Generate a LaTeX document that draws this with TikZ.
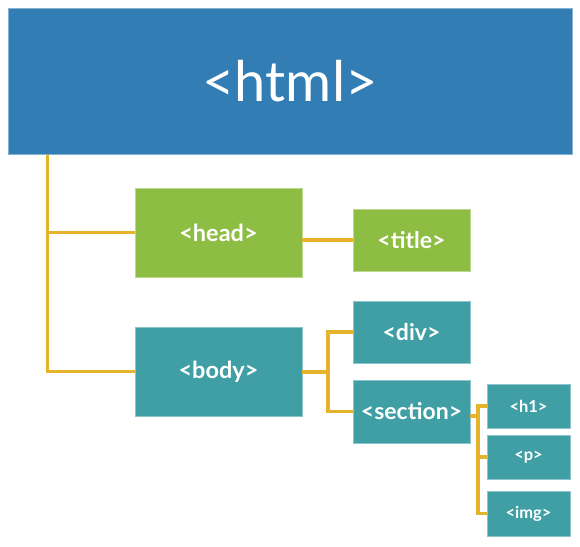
\documentclass[tikz,border=0pt]{standalone}
\usepackage{fontspec}
\setmainfont{Lato}
\definecolor{htmlblue}{HTML}{337DB5}
\definecolor{headgreen}{HTML}{8DBE43}
\definecolor{bodyteal}{HTML}{3F9FA5}
\definecolor{linegold}{HTML}{E6B32C}
\begin{document}
\begin{tikzpicture}[x=1pt,y=-1pt,
  box/.style={rectangle, inner sep=0pt, text=white, line width=0.6pt},
  bluebox/.style={box, fill=htmlblue, draw=htmlblue!60!white},
  greenbox/.style={box, fill=headgreen, draw=headgreen!60!white},
  tealbox/.style={box, fill=bodyteal, draw=bodyteal!60!white},
  big/.style={font=\bfseries\fontsize{23.5}{27}\selectfont},
  mid/.style={font=\bfseries\fontsize{23}{26}\selectfont},
  small/.style={font=\bfseries\fontsize{16.5}{19}\selectfont},
  conn/.style={draw=linegold, line width=3.6pt}]
\useasboundingbox (0,0) rectangle (580,546);
\coordinate (hs) at (47.5,154.5);
\coordinate (bj) at (328,372);
\coordinate (sj) at (478,416);
\node[bluebox, minimum width=564pt, minimum height=146pt, font=\fontsize{56}{64}\selectfont] (html) at (290,81) {<html>};
\node[greenbox, big, minimum width=167pt, minimum height=89pt] (head) at (218.5,232.5) {<head>};
\node[tealbox, big, minimum width=167pt, minimum height=89pt] (body) at (218.5,371.5) {<body>};
\node[greenbox, mid, minimum width=117pt, minimum height=62pt] (title) at (411.5,240) {<title>};
\node[tealbox, mid, minimum width=117pt, minimum height=62pt] (div) at (411.5,332) {<div>};
\node[tealbox, mid, minimum width=117pt, minimum height=63pt] (section) at (411.5,411.5) {<section>};
\node[tealbox, small, minimum width=83pt, minimum height=44pt] (h1) at (528.5,406) {<h1>};
\node[tealbox, small, minimum width=83pt, minimum height=44pt] (p) at (528.5,457) {<p>};
\node[tealbox, small, minimum width=83pt, minimum height=45pt] (img) at (528.5,513.5) {<img>};
\draw[conn] (hs) |- (head.west);
\draw[conn] (hs) |- (body.west);
\draw[conn] (title.west) -- (title.west -| head.east);
\draw[conn] (body.east |- bj) -- (bj);
\draw[conn] (div.west) -| (bj) |- (section.west);
\draw[conn] (section.east |- sj) -- (sj);
\draw[conn] (h1.west) -| (sj |- img.west) -- (img.west);
\draw[conn] (p.west) -- (p.west -| sj);
\end{tikzpicture}
\end{document}
